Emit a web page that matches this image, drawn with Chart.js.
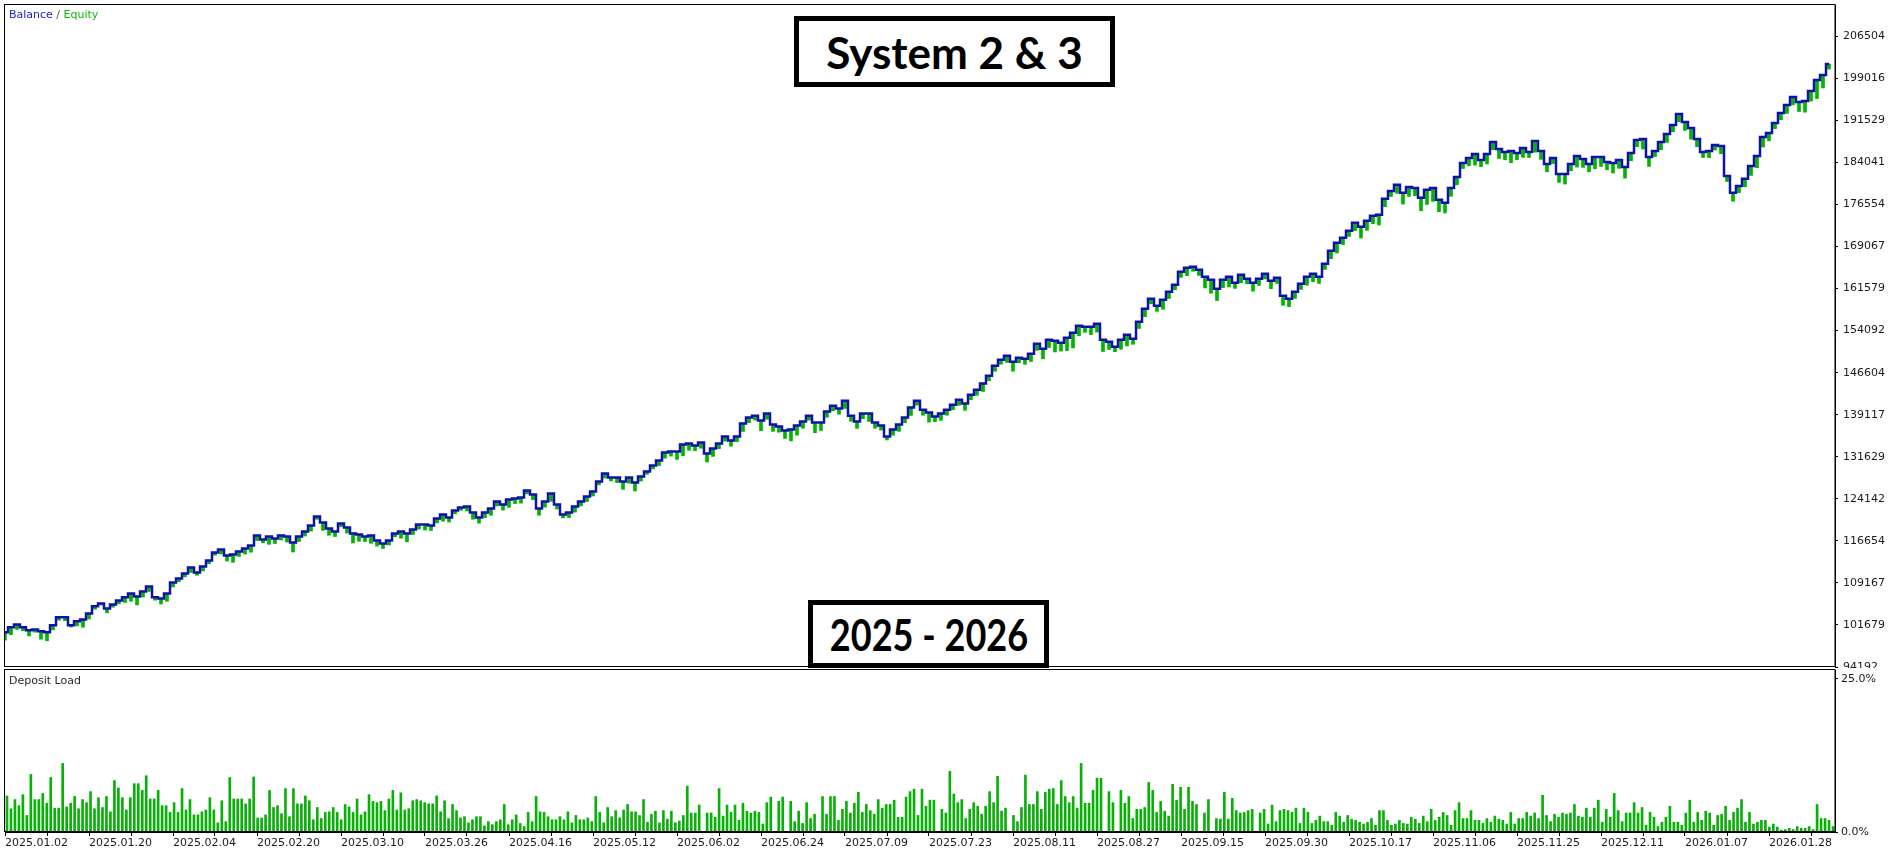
<!DOCTYPE html>
<html>
<head>
<meta charset="utf-8">
<title>System 2 & 3 - Balance / Equity</title>
<script src="https://cdn.jsdelivr.net/npm/chart.js@4/dist/chart.umd.min.js"></script>
<style>
  html, body { margin: 0; padding: 0; background: #fff; }
  #wrap { position: relative; width: 1892px; height: 853px; overflow: hidden; background: #fff; }
  #mainChart { position: absolute; left: 0; top: 0; background: #fff; }
  #loadChart { position: absolute; left: 0; top: 668px; background: #fff; }
  .tag {
    position: absolute; box-sizing: border-box; border: 5px solid #000; background: #fff;
    font-family: Lato, "Open Sans", sans-serif; font-weight: bold; color: #000;
    display: flex; align-items: center; justify-content: center; white-space: nowrap;
  }
  .tag span { display: inline-block; }
  #tagTop { left: 794px; top: 16px; width: 321px; height: 71px; font-size: 44px; }
  #tagBottom { left: 808px; top: 600px; width: 241px; height: 68px; font-size: 44px; }
  #tagBottom span { transform: scaleX(0.82); }
</style>
</head>
<body>
<div id="wrap">
  <canvas id="mainChart" width="1892" height="670"></canvas>
  <canvas id="loadChart" width="1892" height="185"></canvas>
  <div class="tag" id="tagTop"><span>System 2 &amp; 3</span></div>
  <div class="tag" id="tagBottom"><span>2025 - 2026</span></div>
</div>
<script>
(function () {
  // ---------------------------------------------------------
  // Data
  // ---------------------------------------------------------
  const balance = [
    100360, 101250, 101780, 101250, 100720, 100890, 100540, 100360, 101610, 103030,
    103030, 101610, 102320, 102670, 103740, 104990, 105520, 104630, 105340, 106050,
    106590, 107300, 106760, 107650, 108540, 106590, 106410, 107300, 109250, 109970,
    110850, 111920, 111030, 112100, 113170, 114590, 115120, 114060, 114230, 114770,
    115300, 115830, 117610, 116900, 117440, 117080, 117610, 117440, 116370, 117440,
    118320, 119390, 120990, 119920, 118860, 118320, 119750, 119040, 117970, 117790,
    117440, 117610, 116720, 116190, 116720, 117970, 118320, 117970, 118680, 119570,
    119570, 119390, 120640, 121350, 120810, 122060, 122590, 122770, 121700, 120810,
    121700, 122410, 123660, 123130, 124020, 124190, 124370, 125620, 124900, 122410,
    123660, 125080, 123130, 121350, 121700, 122770, 123660, 124550, 125440, 127220,
    128640, 127930, 127930, 127220, 127930, 127040, 128110, 129000, 130060, 130950,
    132370, 132550, 132550, 133800, 133980, 133620, 134150, 132200, 133090, 133980,
    135220, 134510, 135220, 137530, 138600, 138950, 138070, 139310, 137350, 137000,
    136290, 136460, 137180, 137890, 138950, 137710, 137710, 139670, 140730, 140200,
    141620, 138950, 137890, 139310, 139310, 137710, 137180, 135220, 136460, 137350,
    138600, 140380, 141620, 140020, 139490, 138780, 139310, 140020, 140910, 141800,
    141090, 142690, 143580, 144650, 146070, 147850, 148910, 149630, 148560, 149270,
    149090, 149980, 151760, 150870, 152470, 152290, 151940, 152830, 153720, 154960,
    154780, 154780, 155320, 152470, 152120, 151230, 152470, 153360, 152650, 155670,
    157980, 159760, 158520, 159590, 161010, 162250, 164570, 165280, 165450, 164920,
    163680, 163140, 161540, 163140, 163680, 162610, 164030, 163320, 162610, 163320,
    164210, 162960, 163500, 160300, 159760, 161010, 162430, 163680, 164210, 163680,
    165990, 168300, 169720, 170610, 171860, 173280, 172570, 173640, 174520, 174700,
    177550, 178970, 180040, 178620, 179680, 179500, 177730, 179150, 179500, 177370,
    176840, 179500, 181460, 183950, 184840, 185550, 184480, 185550, 187690, 186440,
    185910, 186090, 185730, 186620, 185910, 187860, 186090, 183770, 184840, 181990,
    181990, 183770, 185200, 184660, 183770, 185020, 185020, 184130, 183950, 184480,
    183240, 185730, 188040, 188220, 185020, 186090, 187690, 189110, 190710, 192670,
    191240, 190180, 188220, 185910, 186090, 187150, 186970, 181640, 178620, 179860,
    181110, 183420, 185200, 188580, 189290, 191060, 192840, 194270, 195690, 194800,
    194980, 196760, 198710, 199600, 201560
  ];

  // how far equity sank under balance at each step
  const equityDrop = [
    1400, 1300, 900, 600, 1000, 500, 1400, 1500, 800, 500,
    600, 300, 800, 1400, 1000, 500, 300, 800, 500, 600,
    900, 1400, 1500, 1000, 900, 500, 1000, 1400, 800, 600,
    600, 900, 500, 800, 600, 500, 800, 1000, 1400, 900,
    1000, 1200, 900, 600, 1400, 900, 800, 1000, 1700, 900,
    800, 1000, 500, 1400, 1200, 900, 600, 1000, 1700, 1200,
    900, 1400, 1000, 900, 800, 600, 1200, 1500, 900, 800,
    1000, 900, 800, 1200, 800, 600, 500, 800, 1200, 1000,
    900, 1200, 800, 1000, 1400, 900, 1000, 600, 900, 1200,
    1000, 1400, 800, 600, 900, 1000, 800, 900, 800, 600,
    800, 600, 900, 1400, 1000, 1500, 800, 500, 600, 900,
    1000, 800, 1400, 2000, 1200, 900, 1000, 1500, 1400, 900,
    800, 1000, 900, 1400, 900, 800, 1800, 1000, 1200, 1000,
    1400, 2000, 1700, 1200, 800, 1800, 1400, 1000, 900, 1000,
    1400, 1000, 1200, 900, 1400, 1000, 800, 600, 1000, 1200,
    900, 1400, 800, 1000, 1700, 900, 1200, 1000, 900, 1000,
    1200, 900, 1000, 1400, 900, 1000, 800, 1200, 1700, 900,
    1000, 1400, 1200, 1800, 1400, 2000, 1500, 2300, 2700, 1800,
    1000, 1400, 1500, 2100, 1400, 900, 1700, 2000, 1000, 1200,
    1400, 900, 1000, 1700, 1200, 900, 1000, 1400, 800, 1000,
    2000, 2400, 2100, 1400, 1800, 1000, 1400, 900, 1500, 1200,
    900, 1400, 1000, 1700, 1400, 1200, 1000, 1500, 1400, 1200,
    1000, 1400, 1800, 1200, 1000, 1400, 2000, 1700, 1400, 1800,
    1400, 1000, 1500, 2000, 1700, 1400, 2300, 2600, 2400, 2100,
    1800, 1500, 1400, 1000, 1400, 2000, 1200, 1800, 1400, 1700,
    1400, 2100, 1200, 1700, 1000, 2000, 1500, 1400, 1000, 1500,
    1800, 1200, 2000, 1500, 1400, 2100, 1700, 1400, 1800, 1500,
    2000, 1400, 1200, 1800, 1700, 1000, 1400, 1500, 1200, 1400,
    1500, 2000, 1400, 1000, 1200, 900, 1400, 1000, 1500, 1200,
    1400, 1700, 2100, 1800, 1400, 1000, 1200, 1500, 1400, 1700,
    2000, 1800, 3300, 2300, 900
  ];

  // deposit load, % per deal
  const depositLoad = [
    5.9, 3.8, 5.3, 4.3, 6.1, 2.7, 9.4, 5.3, 5.3, 6.3,
    4.7, 8.9, 3.9, 3.9, 11.2, 4.1, 4.7, 5.8, 3.8, 5.3,
    4.8, 6.6, 3.8, 5.6, 4.0, 5.8, 3.3, 8.4, 7.2, 5.6,
    3.6, 5.6, 7.9, 7.9, 6.8, 9.2, 5.4, 5.4, 6.8, 4.3,
    4.3, 3.2, 4.8, 3.2, 7.1, 3.6, 5.3, 2.8, 2.8, 3.3,
    3.6, 5.6, 3.6, 1.5, 5.1, 1.7, 8.9, 5.4, 5.4, 5.4,
    4.6, 5.4, 9.0, 2.3, 2.3, 2.8, 6.8, 4.0, 4.3, 3.0,
    7.1, 2.5, 7.1, 4.6, 4.6, 5.9, 5.1, 2.0, 4.0, 2.2,
    3.2, 3.3, 4.0, 3.2, 2.0, 4.5, 4.1, 3.2, 5.4, 2.8,
    3.3, 6.1, 5.0, 4.8, 5.0, 3.5, 5.4, 6.8, 3.6, 6.4,
    3.6, 3.8, 5.1, 5.3, 5.1, 4.8, 4.6, 4.6, 5.9, 3.3,
    5.1, 2.2, 4.5, 3.5, 2.3, 2.5, 1.5, 2.0, 2.5, 2.5,
    1.0, 1.7, 1.2, 1.7, 2.0, 4.5, 1.2, 2.0, 2.8, 1.4,
    0.9, 3.2, 1.7, 5.8, 3.3, 3.2, 2.5, 2.0, 2.0, 2.5,
    2.0, 3.3, 1.5, 2.7, 2.0, 2.0, 2.3, 1.7, 5.8, 3.2,
    1.5, 4.0, 2.5, 3.5, 2.3, 3.6, 4.5, 3.3,
    3.3, 2.7, 5.3, 1.6, 2.9, 3.4, 1.5, 3.5, 2.1, 3.4,
    1.5, 1.8, 2.7, 7.5, 3.1, 3.1, 4.4, 0, 3.1, 3.1,
    2.4, 7.1, 2.6, 4.4, 3.2, 4.4, 1.9, 4.7, 3.4, 3.1,
    3.4, 3.2, 1.3, 4.8, 5.7, 0, 5.0, 5.7, 0, 5.0,
    1.7, 3.4, 1.4, 4.8, 2.2, 2.9, 0, 5.8, 2.9, 5.8,
    5.8, 1.9, 3.7, 5.0, 3.1, 4.7, 6.5, 3.2, 4.5, 3.5,
    2.9, 5.3, 3.9, 4.5, 4.5, 5.2, 2.4, 2.4, 5.7, 6.6,
    7.0, 2.7, 7.0, 4.2, 5.2, 5.2, 0, 3.7, 3.1, 9.9,
    6.2, 4.8, 5.3, 2.2, 3.7, 4.8, 4.2, 2.9,
    4.2, 6.6, 4.8, 9.1, 3.4, 3.9, 0, 2.7, 1.7,
    4.0, 9.3, 4.5, 4.5, 6.6, 3.7, 6.5, 7.0, 7.1,
    4.5, 8.4, 5.8, 4.8, 5.8, 3.9, 11.2, 4.7, 4.7, 6.8,
    8.8, 8.8, 0, 6.6, 4.8, 0, 6.8, 4.7, 5.8,
    2.2, 3.7, 3.7, 4.0, 8.1, 6.8, 3.2, 5.0, 3.4, 2.6,
    7.8, 5.2, 7.3, 3.7, 7.3, 5.0, 4.5, 0, 3.1, 5.3,
    0, 2.2, 2.1, 6.5, 2.1, 5.5, 3.5, 3.1, 3.2, 3.5,
    3.7, 0, 3.1, 3.7, 1.3, 4.4, 1.7, 3.5, 3.7,
    3.5, 3.2, 3.9, 1.4, 3.9, 3.2, 1.4, 1.9, 2.6, 1.7,
    1.7, 1.1, 3.2, 2.6, 1.6, 2.7, 2.1, 1.9, 1.6, 1.3,
    1.6, 2.2, 1.1, 3.5, 3.5, 1.9, 1.1, 1.3, 1.9, 1.4,
    1.3, 2.4, 2.1, 1.4, 2.6, 1.7, 3.7, 1.9, 2.4, 3.2,
    2.7, 1.1, 3.5, 4.8, 2.2, 2.2, 3.5, 1.9, 1.9, 1.4,
    2.2, 1.6, 2.6, 2.1, 1.9, 1.3, 3.2, 1.3, 2.2, 2.2,
    3.2, 2.6, 3.1, 2.2, 6.0, 2.7, 1.7, 2.9, 2.4, 3.1,
    2.9, 3.1, 4.5, 2.6, 2.4, 3.9, 2.4, 3.9, 5.2, 1.6,
    3.7, 2.4, 6.3, 3.5, 1.7, 3.1, 3.1, 4.8, 3.1, 4.0,
    1.1, 3.2, 2.4, 0.9, 1.6, 2.4, 4.2, 1.6, 1.6, 1.1,
    3.1, 5.2, 1.6, 3.2, 1.9, 3.4, 3.1, 1.1, 2.7, 2.9,
    4.2, 1.9, 3.2, 3.9, 5.3, 1.6, 3.2, 1.3, 1.6, 1.9,
    1.9, 0.8, 1.3, 0.8, 0.3, 0.4, 0.6, 0.4, 0.9, 0.6,
    0.6, 0.9, 0.4, 4.5, 2.2, 2.2, 1.9, 0.9
  ];

  const dateLabels = [
    "2025.01.02", "2025.01.20", "2025.02.04", "2025.02.20", "2025.03.10", "2025.03.26",
    "2025.04.16", "2025.05.12", "2025.06.02", "2025.06.24", "2025.07.09", "2025.07.23",
    "2025.08.11", "2025.08.27", "2025.09.15", "2025.09.30", "2025.10.17", "2025.11.06",
    "2025.11.25", "2025.12.11", "2026.01.07", "2026.01.28"
  ];

  const priceTicks = [
    206504, 199016, 191529, 184041, 176554, 169067, 161579, 154092,
    146604, 139117, 131629, 124142, 116654, 109167, 101679, 94192
  ];
  const loadTicks = [0, 25];

  const BLUE = "#1010aa";
  const GREEN = "#00b400";
  const BAR_GREEN = "#08b008";
  const TEXT = "#1a1a1a";

  Chart.defaults.font.family = "'DejaVu Sans', Verdana, sans-serif";
  Chart.defaults.font.size = 11;
  Chart.defaults.color = TEXT;

  // equity shown as the green dips hanging under the balance line
  const equitySpan = balance.map((v, i) => [v - (equityDrop[i] || 0), v]);

  // thin black frame round the plot area
  const framePlugin = {
    id: "frame",
    afterDraw(chart) {
      const a = chart.chartArea;
      const c = chart.ctx;
      c.save();
      c.strokeStyle = "#000";
      c.lineWidth = 1;
      c.strokeRect(a.left - 0.5, a.top - 0.5, a.right - a.left + 0.5, a.bottom - a.top);
      c.restore();
    }
  };

  // "Balance / Equity" caption in the corner (MT5 style, no boxes)
  const captionMain = {
    id: "captionMain",
    afterDraw(chart) {
      const c = chart.ctx;
      c.save();
      c.font = "11px 'DejaVu Sans'";
      c.textBaseline = "alphabetic";
      let x = 9;
      const parts = [["Balance", "#2222cc"], [" / ", "#555"], ["Equity", "#10b810"]];
      parts.forEach(([t, col]) => {
        c.fillStyle = col;
        c.fillText(t, x, 18);
        x += c.measureText(t).width;
      });
      c.restore();
    }
  };

  const captionLoad = {
    id: "captionLoad",
    afterDraw(chart) {
      const c = chart.ctx;
      c.save();
      c.font = "11px 'DejaVu Sans'";
      c.fillStyle = "#2a2a2a";
      c.fillText("Deposit Load", 9, 16);
      c.restore();
    }
  };

  function noPad(s) {
    s.paddingTop = 0; s.paddingBottom = 0; s.paddingLeft = 0; s.paddingRight = 0;
  }

  // =========================================================
  // A) balance / equity
  // =========================================================
  // one spare slot at the end so the last deal sits just left of the axis
  const mainLabels = balance.map((_, i) => i).concat([balance.length]);

  new Chart(document.getElementById("mainChart"), {
    data: {
      labels: mainLabels,
      datasets: [
        {
          type: "line",
          label: "Balance",
          data: balance,
          borderColor: BLUE,
          borderWidth: 2.5,
          pointRadius: 0,
          stepped: "middle",
          order: 1
        },
        {
          type: "bar",
          label: "Equity",
          data: equitySpan,
          backgroundColor: GREEN,
          borderWidth: 0,
          barThickness: 3,
          order: 2
        }
      ]
    },
    options: {
      responsive: false,
      animation: false,
      events: [],
      layout: { padding: { left: 5, top: 5, right: 0, bottom: 3 } },
      plugins: { legend: { display: false }, tooltip: { enabled: false } },
      scales: {
        x: { display: false, offset: false, grid: { offset: false } },
        y: {
          position: "right",
          min: 94192,
          max: 212068,
          afterBuildTicks: s => { s.ticks = priceTicks.map(v => ({ value: v })); },
          afterFit: s => { s.width = 57; noPad(s); },
          grid: { drawOnChartArea: false, tickLength: 3, color: "#000" },
          border: { color: "#000" },
          ticks: { padding: 5, callback: v => String(v) }
        }
      }
    },
    plugins: [framePlugin, captionMain]
  });

  // =========================================================
  // B) deposit load bars
  // =========================================================
  const n = depositLoad.length;
  new Chart(document.getElementById("loadChart"), {
    type: "bar",
    data: {
      datasets: [{
        label: "Deposit Load",
        data: depositLoad.map((v, i) => ({ x: i, y: v })),
        backgroundColor: BAR_GREEN,
        borderWidth: 0,
        barThickness: 2
      }]
    },
    options: {
      responsive: false,
      animation: false,
      events: [],
      layout: { padding: { left: 5, top: 2, right: 0, bottom: 0 } },
      plugins: { legend: { display: false }, tooltip: { enabled: false } },
      scales: {
        x: {
          type: "linear",
          offset: false,
          min: -0.5,
          max: n - 0.5,
          afterBuildTicks: s => {
            // a tick every half label step, a date on every other one
            const span = s.max - s.min;
            const ticks = [];
            for (let m = 0; m <= 43; m++) ticks.push({ value: s.min + span * m * 42 / 1830 });
            s.ticks = ticks;
          },
          afterFit: s => { s.height = 21; noPad(s); },
          grid: { drawOnChartArea: false, tickLength: 4, color: "#000", offset: false },
          border: { color: "#000" },
          ticks: {
            align: "start",
            autoSkip: false,
            maxRotation: 0,
            padding: 1,
            callback: (v, i) => (i % 2 === 0 ? dateLabels[i / 2] : "")
          }
        },
        y: {
          position: "right",
          min: 0,
          max: 26.47,
          afterBuildTicks: s => { s.ticks = loadTicks.map(v => ({ value: v })); },
          afterFit: s => { s.width = 57; noPad(s); },
          grid: { drawOnChartArea: false, tickLength: 3, color: "#000" },
          border: { color: "#000" },
          ticks: { padding: 3, callback: v => Number(v).toFixed(1) + "%" }
        }
      }
    },
    plugins: [framePlugin, captionLoad]
  });
})();
</script>
</body>
</html>
